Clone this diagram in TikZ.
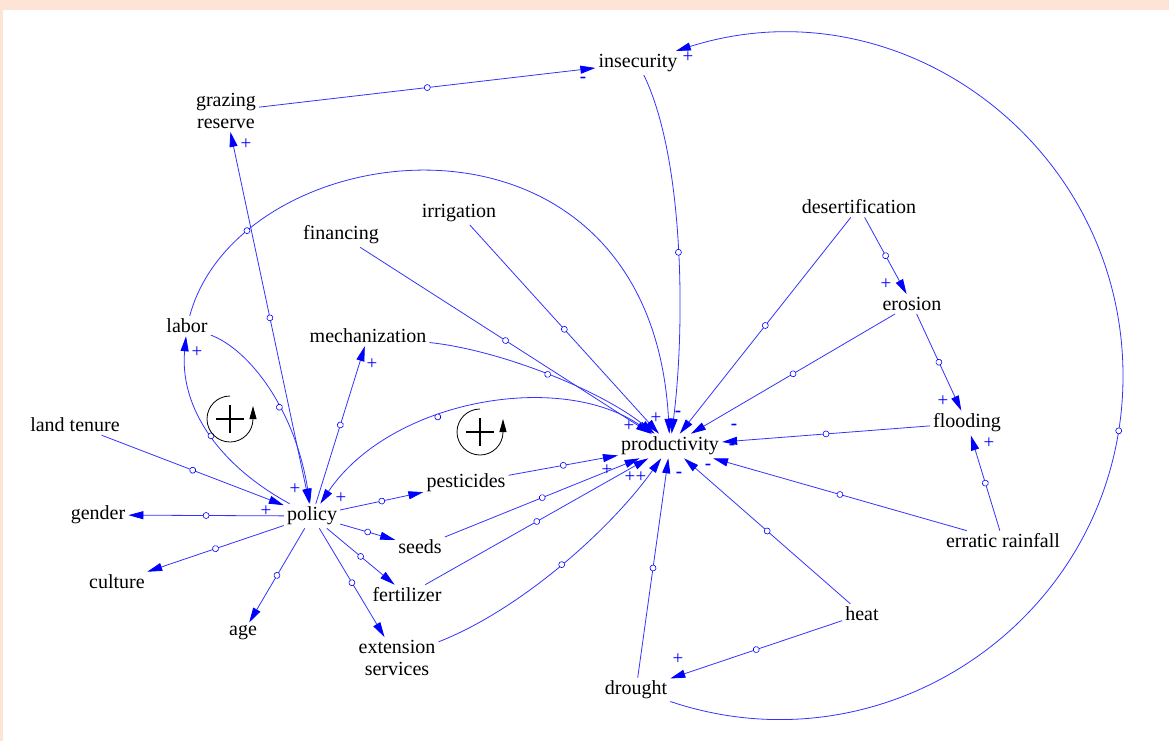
\documentclass[tikz,border=0pt]{standalone}
\usepackage{fontspec}
\setmainfont{Liberation Serif}
\usetikzlibrary{arrows.meta,decorations.markings}
\definecolor{peach}{RGB}{253,228,215}

\begin{document}
\begin{tikzpicture}[x=1pt,y=-1pt,
  var/.style={inner sep=3pt, align=center, font=\fontsize{20}{22}\selectfont},
  sgn/.style={inner sep=0pt, text=blue, font=\fontsize{19}{19}\selectfont},
  >={Triangle[length=15pt,width=8pt,color=blue]},
  link/.style={draw=blue!80, line width=0.8pt, ->, postaction={decorate},
    decoration={markings, mark=at position #1 with {\draw[blue, fill=white, line width=0.6pt] (0,0) circle (3pt);}}},
  link/.default=0.5,
  loopsym/.style={line width=0.8pt, -{Triangle[length=13pt,width=7pt]}}]

% background
\useasboundingbox (0,0) rectangle (1169,741);
\fill[peach] (0,0) rectangle (1169,741);
\fill[white] (3,10) rectangle (1169,741);

% variables
\node[var] (insec) at (638,63) {insecurity};
\node[var] (graze) at (226,111) {grazing\\reserve};
\node[var] (irrig) at (459,213) {irrigation};
\node[var] (fin) at (341,235) {financing};
\node[var] (desert) at (859,207) {desertification};
\node[var] (eros) at (912,304) {erosion};
\node[var] (labor) at (187,326) {labor};
\node[var] (mech) at (368,336) {mechanization};
\node[var] (tenure) at (75,425) {land tenure};
\node[var] (flood) at (967,423) {flooding};
\node[var] (prod) at (670,446) {productivity};
\node[var] (pest) at (466,483) {pesticides};
\node[var] (policy) at (312,516) {policy};
\node[var] (gender) at (98,515) {gender};
\node[var] (seeds) at (420,547) {seeds};
\node[var] (rain) at (1003,541) {erratic rainfall};
\node[var] (culture) at (117,582) {culture};
\node[var] (fert) at (407,595) {fertilizer};
\node[var] (heat) at (862,614) {heat};
\node[var] (age) at (243,633) {age};
\node[var] (ext) at (397,658) {extension\\services};
\node[var] (drought) at (636,690) {drought};
\coordinate (rim) at (1123,376);

% links
\draw[link] (graze) -- (insec);
\draw[link] (insec) .. controls (685,160) and (685,330) .. (prod);
\draw[link=0.46] (drought) .. controls (892,776) and (1123,611) .. (rim) .. controls (1123,145) and (900,-20) .. (insec);
\draw[link, <->] (policy) -- (graze);
\draw[link=0.15] (labor) .. controls (240,130) and (650,80) .. (prod);
\draw[link] (labor) .. controls (250,350) and (295,410) .. (policy);
\draw[link] (policy) .. controls (210,460) and (180,400) .. (labor);
\draw[link=0.4, <->] (policy) .. controls (390,400) and (560,370) .. (prod);
\draw[link] (fin) -- (prod);
\draw[link] (irrig) -- (prod);
\draw[link] (mech) .. controls (500,350) and (600,390) .. (prod);
\draw[link] (policy) -- (mech);
\draw[link] (tenure) -- (policy);
\draw[link] (policy) -- (gender);
\draw[link] (policy) -- (culture);
\draw[link] (policy) -- (age);
\draw[link] (policy) -- (pest);
\draw[link] (policy) -- (seeds);
\draw[link] (policy) -- (fert);
\draw[link] (policy) -- (ext);
\draw[link] (pest) -- (prod);
\draw[link] (seeds) -- (prod);
\draw[link] (fert) -- (prod);
\draw[link] (ext) .. controls (520,610) and (610,530) .. (prod);
\draw[link] (drought) -- (prod);
\draw[link] (heat) -- (prod);
\draw[link] (heat) -- (drought);
\draw[link] (rain) -- (prod);
\draw[link] (rain) -- (flood);
\draw[link] (flood) -- (prod);
\draw[link] (eros) -- (prod);
\draw[link] (eros) -- (flood);
\draw[link] (desert) -- (prod);
\draw[link] (desert) -- (eros);

% polarity signs
\node[sgn] (s1) at (583,80) {\textbf{-}};
\node[sgn] (s2) at (688,57) {+};
\node[sgn] (s3) at (246,144) {+};
\node[sgn] (s4) at (197,352) {+};
\node[sgn] (s5) at (372,364) {+};
\node[sgn] (s6) at (295,489) {+};
\node[sgn] (s7) at (341,498) {+};
\node[sgn] (s8) at (266,511) {+};
\node[sgn] (s9) at (886,284) {+};
\node[sgn] (s10) at (943,401) {+};
\node[sgn] (s11) at (989,443) {+};
\node[sgn] (s12) at (678,659) {+};
\node[sgn] (s13) at (656,418) {+};
\node[sgn] (s14) at (629,426) {+};
\node[sgn] (s15) at (607,470) {+};
\node[sgn] (s16) at (630,477) {+};
\node[sgn] (s17) at (641,477) {+};
\node[sgn] (s18) at (678,414) {\textbf{-}};
\node[sgn] (s19) at (734,427) {\textbf{-}};
\node[sgn] (s20) at (732,447) {\textbf{-}};
\node[sgn] (s21) at (708,467) {\textbf{-}};
\node[sgn] (s22) at (679,475) {\textbf{-}};

% loop markers
\draw[loopsym] (230,419) ++(-90:23) arc[start angle=-90, end angle=-360, radius=23] -- ++(0,-13);
\draw[line width=1.5pt] (216,419) -- (244,419) (230,405) -- (230,433);
\draw[loopsym] (480,432) ++(-90:23) arc[start angle=-90, end angle=-360, radius=23] -- ++(0,-13);
\draw[line width=1.5pt] (466,432) -- (494,432) (480,418) -- (480,446);
\end{tikzpicture}
\end{document}
